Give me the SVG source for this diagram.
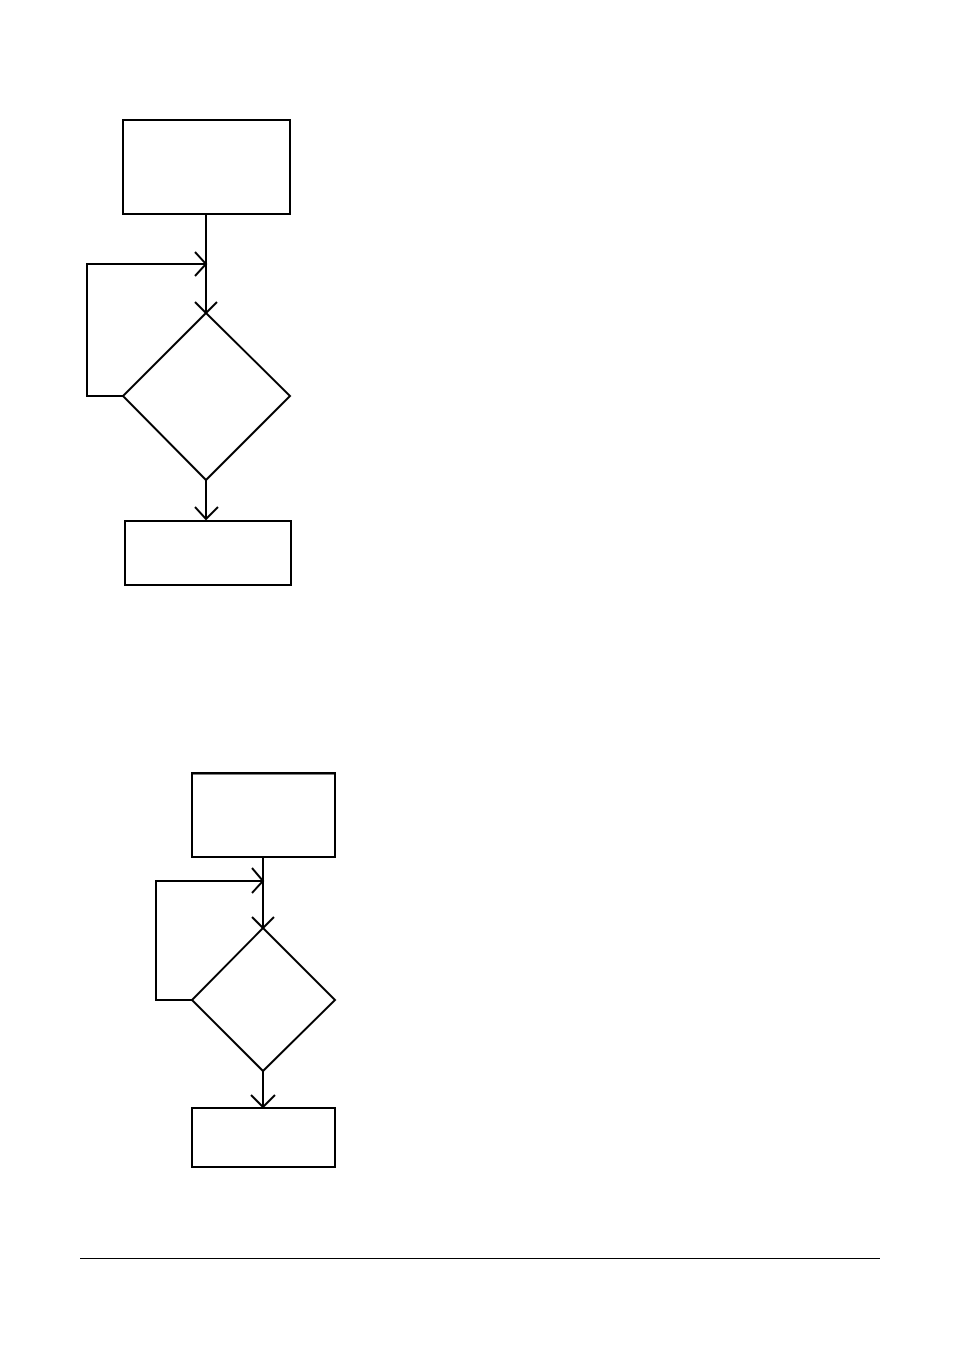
<svg xmlns="http://www.w3.org/2000/svg" width="954" height="1346" viewBox="0 0 954 1346">
<style>
.s{fill:#fff;stroke:#000;stroke-width:2}
.c{fill:none;stroke:#000;stroke-width:2}
.a{fill:none;stroke:#000;stroke-width:2}
</style>
<rect width="954" height="1346" fill="#fff"/>
<g id="connectors">
<path class="c" d="M206 214V313"/>
<path class="c" d="M123 396H87V264H206"/>
<path class="a" d="M195 252L206 264L195 276"/>
<path class="a" d="M195 302L206 313L217 302"/>
<path class="c" d="M206 480V519"/>
<path class="a" d="M195 507L206 519L218 507"/>
<path class="c" d="M263 857V928"/>
<path class="c" d="M192 1000H156V881H263"/>
<path class="a" d="M252 868L263 881L252 893"/>
<path class="a" d="M252 917L263 928L274 917"/>
<path class="c" d="M263 1071V1107"/>
<path class="a" d="M251 1095L263 1107L275 1095"/>
</g>
<g id="n1"><rect class="s" x="123" y="120" width="167" height="94"/></g>
<g id="d1"><polygon class="s" points="206,313 290,396 206,480 123,396"/></g>
<g id="n2"><rect class="s" x="125" y="521" width="166" height="64"/></g>
<g id="n3"><rect class="s" x="192" y="773" width="143" height="84"/><path class="c" d="M192 773.5H335" stroke-width="1"/></g>
<g id="d2"><polygon class="s" points="263,928 335,1000 263,1071 192,1000"/></g>
<g id="n4"><rect class="s" x="192" y="1108" width="143" height="59"/></g>
<g id="footer"><path d="M80 1258.5H880" stroke="#000" stroke-width="1"/></g>
</svg>
